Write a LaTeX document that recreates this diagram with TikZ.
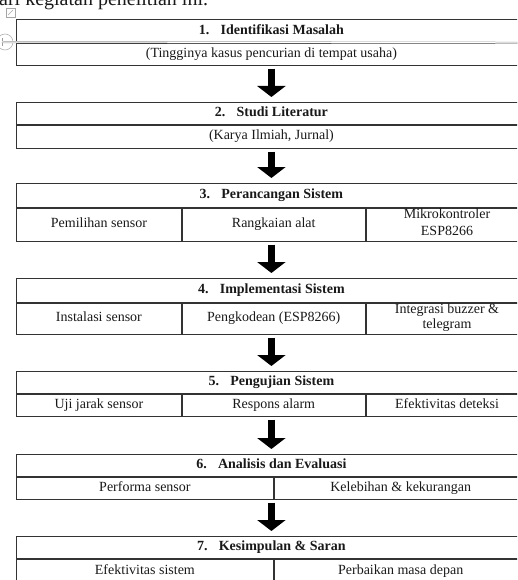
\documentclass[tikz,border=0pt]{standalone}
\usepackage{fontspec}
\setmainfont{Liberation Serif}
\usetikzlibrary{arrows.meta, positioning}

\begin{document}
\begin{tikzpicture}[
    x=1pt, y=-1pt,
    every node/.style={font=\fontsize{14}{16}\selectfont, align=center, inner sep=0pt, text=black!90},
    head/.style={draw=black!80, line width=0.8pt, minimum width=510pt,
                 minimum height=#1, font=\fontsize{14}{16}\selectfont\bfseries,
                 execute at begin node=\strut, execute at end node=\strut},
    head/.default=22pt,
    cell/.style={draw=black!80, line width=0.8pt, minimum height=#1,
                 execute at begin node=\strut, execute at end node=\strut},
    cell/.default=23pt,
    twoline/.style={font=\fontsize{14}{17}\selectfont},
    flowarrow/.style={line width=7pt, black, -{Triangle[width=28pt,length=11pt]},
                      shorten <=3pt, shorten >=5pt}
]
\useasboundingbox (0,0) rectangle (517,580);
\clip (0,0) rectangle (517,580);

% text above the chart, cut off by the page
\node[anchor=base west, font=\fontsize{20}{24}\selectfont] (intro) at (-11,6) {dari kegiatan penelitian ini.};

% word handles
\draw[black!35, line width=0.6pt] (6,8) rectangle (15,17);
\draw[black!35, line width=0.6pt] (8,15) -- (13,10);
\draw[black!30, line width=0.6pt] (5,42) circle (8);
\draw[black!40, line width=0.6pt] (2,38) -- (2,46);

% 1
\node[head=23pt, anchor=north west] (t1) at (16,19) {1.\hspace{0.8em}Identifikasi Masalah};
\node[cell=22pt, minimum width=510pt, below=0pt of t1] (r1) {(Tingginya kasus pencurian di tempat usaha)};
\draw[black!40, line width=0.5pt, double, double distance=1pt] (2,42) -- (t1.south east);

% 2
\node[head=22pt, anchor=north west] (t2) at (16,102) {2.\hspace{0.8em}Studi Literatur};
\node[cell=23pt, minimum width=510pt, below=0pt of t2] (r2) {(Karya Ilmiah, Jurnal)};

% 3
\node[head=24pt, anchor=north west] (t3) at (16,183) {3.\hspace{0.8em}Perancangan Sistem};
\node[cell=33pt, minimum width=165pt, anchor=north west] (r3a) at (t3.south west) {Pemilihan sensor};
\node[cell=33pt, minimum width=183pt, anchor=north west] (r3b) at (r3a.north east) {Rangkaian alat};
\node[cell=33pt, twoline, minimum width=162pt, anchor=north west] (r3c) at (r3b.north east) {Mikrokontroler\\ESP8266};

% 4
\node[head=24pt, anchor=north west] (t4) at (16,278) {4.\hspace{0.8em}Implementasi Sistem};
\node[cell=31pt, minimum width=165pt, anchor=north west] (r4a) at (t4.south west) {Instalasi sensor};
\node[cell=31pt, minimum width=183pt, anchor=north west] (r4b) at (r4a.north east) {Pengkodean (ESP8266)};
\node[cell=31pt, execute at begin node=, execute at end node=, minimum width=162pt, anchor=north west] (r4c) at (r4b.north east) {Integrasi buzzer \&\\[-1pt]telegram};

% 5
\node[head=22pt, anchor=north west] (t5) at (16,371) {5.\hspace{0.8em}Pengujian Sistem};
\node[cell=22pt, minimum width=165pt, anchor=north west] (r5a) at (t5.south west) {Uji jarak sensor};
\node[cell=22pt, minimum width=183pt, anchor=north west] (r5b) at (r5a.north east) {Respons alarm};
\node[cell=22pt, minimum width=162pt, anchor=north west] (r5c) at (r5b.north east) {Efektivitas deteksi};

% 6
\node[head=22pt, anchor=north west] (t6) at (16,454) {6.\hspace{0.8em}Analisis dan Evaluasi};
\node[cell=22pt, minimum width=257pt, anchor=north west] (r6a) at (t6.south west) {Performa sensor};
\node[cell=22pt, minimum width=253pt, anchor=north west] (r6b) at (r6a.north east) {Kelebihan \& kekurangan};

% 7
\node[head=22pt, anchor=north west] (t7) at (16,536) {7.\hspace{0.8em}Kesimpulan \& Saran};
\node[cell=24pt, minimum width=257pt, anchor=north west] (r7a) at (t7.south west) {Efektivitas sistem};
\node[cell=24pt, minimum width=253pt, anchor=north west] (r7b) at (r7a.north east) {Perbaikan masa depan};

% arrows
\draw[flowarrow] (r1.south) -- (t2.north);
\draw[flowarrow] (r2.south) -- (t3.north);
\draw[flowarrow] (t3.south |- r3b.south) -- (t4.north);
\draw[flowarrow] (t4.south |- r4b.south) -- (t5.north);
\draw[flowarrow] (t5.south |- r5b.south) -- (t6.north);
\draw[flowarrow] (t6.south |- r6a.south) -- (t7.north);
\end{tikzpicture}
\end{document}
